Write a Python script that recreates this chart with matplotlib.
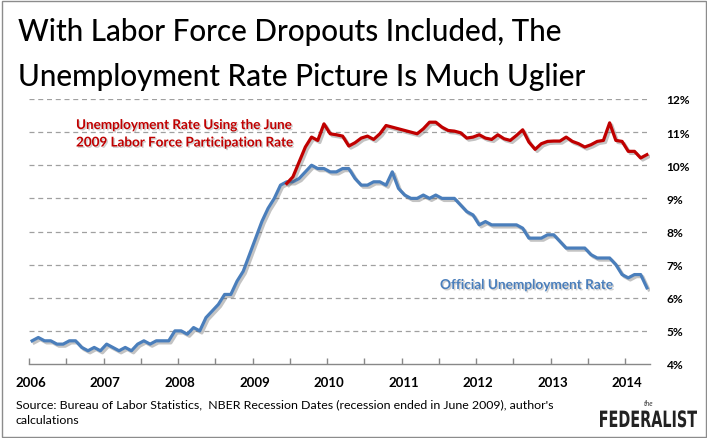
import matplotlib
matplotlib.use('Agg')
import matplotlib.pyplot as plt
import matplotlib.patheffects as pe
from matplotlib.patches import Rectangle, PathPatch
from matplotlib.textpath import TextPath
from matplotlib.font_manager import FontProperties
from matplotlib.transforms import Affine2D
import numpy as np

# ---------------- data (monthly, Jan 2006 - Apr 2014) ----------------
official = [4.7, 4.8, 4.7, 4.7, 4.6, 4.6, 4.7, 4.7, 4.5, 4.4, 4.5, 4.4,
            4.6, 4.5, 4.4, 4.5, 4.4, 4.6, 4.7, 4.6, 4.7, 4.7, 4.7, 5.0,
            5.0, 4.9, 5.1, 5.0, 5.4, 5.6, 5.8, 6.1, 6.1, 6.5, 6.8, 7.3,
            7.8, 8.3, 8.7, 9.0, 9.4, 9.5, 9.5, 9.6, 9.8, 10.0, 9.9, 9.9,
            9.8, 9.8, 9.9, 9.9, 9.6, 9.4, 9.4, 9.5, 9.5, 9.4, 9.8, 9.3,
            9.1, 9.0, 9.0, 9.1, 9.0, 9.1, 9.0, 9.0, 9.0, 8.8, 8.6, 8.5,
            8.2, 8.3, 8.2, 8.2, 8.2, 8.2, 8.2, 8.1, 7.8, 7.8, 7.8, 7.9,
            7.9, 7.7, 7.5, 7.5, 7.5, 7.5, 7.3, 7.2, 7.2, 7.2, 7.0, 6.7,
            6.6, 6.7, 6.7, 6.3]

# June 2009 participation-rate version, starts at month index 41 (Jun 2009)
adj_start = 41
adjusted = [9.45, 9.65, 10.1, 10.55, 10.85, 10.75, 11.25,
            10.95, 10.92, 10.88, 10.58, 10.68, 10.82, 10.88, 10.78, 10.95, 11.2, 11.15, 11.1,
            11.05, 11.0, 10.95, 11.1, 11.3, 11.3, 11.15, 11.05, 11.03, 10.98, 10.82, 10.85,
            10.92, 10.82, 10.78, 10.92, 10.80, 10.75, 10.9, 11.07, 10.70, 10.48, 10.65, 10.72,
            10.73, 10.73, 10.85, 10.72, 10.65, 10.55, 10.62, 10.72, 10.75, 11.28, 10.75, 10.72,
            10.42, 10.42, 10.22, 10.32]

years = ['2006', '2007', '2008', '2009', '2010', '2011', '2012', '2013', '2014']
yticks = [4, 5, 6, 7, 8, 9, 10, 11, 12]

title = ['With Labor Force Dropouts Included, The',
         'Unemployment Rate Picture Is Much Uglier']
red_label = ['Unemployment Rate Using the June',
             '2009 Labor Force Participation Rate']
blue_label = 'Official Unemployment Rate'
source = ["Source: Bureau of Labor Statistics,  NBER Recession Dates (recession ended in June 2009), author's",
          "calculations"]

#-----------------------------------------------------------------------
W, H = 707, 439
font = ['Lato', 'DejaVu Sans']
plt.rcParams['font.family'] = font

fig = plt.figure(figsize=(W/100, H/100), dpi=100)
fig.patch.set_facecolor('white')

def fx(px):
    return px/W

def fy(py):
    return 1 - py/H

ax = fig.add_axes([fx(29), fy(365), fx(650) - fx(29), fy(100) - fy(365)])

red = '#C00000'
blue = '#4A7EBB'
shadow = [pe.SimpleLineShadow(offset=(1.5, -1.5), shadow_color='#555555', alpha=0.35), pe.Normal()]

x_off = np.arange(len(official))
x_adj = np.arange(adj_start, adj_start + len(adjusted))
ax.plot(x_off, official, color=blue, lw=2.3, solid_joinstyle='round', path_effects=shadow, zorder=3)
ax.plot(x_adj, adjusted, color=red, lw=2.3, solid_joinstyle='round', path_effects=shadow, zorder=4)

ax.set_xlim(-0.5, len(official) - 0.5)
ax.set_ylim(4, 12)

# gridlines
for v in yticks[1:]:
    ax.axhline(v, color='#A0A0A0', lw=0.9, ls=(0, (4, 3)), zorder=1)

for s in ['top', 'right', 'left']:
    ax.spines[s].set_visible(False)
ax.spines['bottom'].set_color('#888888')
ax.spines['bottom'].set_linewidth(1)

ax.set_xticks(np.arange(-0.5, len(official), 6))
ax.set_xticklabels([])
ax.tick_params(axis='x', direction='in', length=4, color='#888888', width=1)
ax.set_yticks(yticks)
ax.set_yticklabels([f'{v}%' for v in yticks], fontsize=8.6, fontweight='bold')
ax.yaxis.tick_right()
ax.tick_params(axis='y', length=0, pad=12)

yr_y = (fy(387) - fy(365)) / (fy(100) - fy(365))
for i, yr in enumerate(years):
    ax.text(-0.5 + 12*i + 0.3, yr_y, yr, transform=ax.get_xaxis_transform(),
            ha='center', va='baseline', fontsize=9.5, fontweight='bold')

txt_shadow = [pe.SimplePatchShadow(offset=(1, -1), shadow_rgbFace='#777777', alpha=0.35), pe.Normal()]
for line, by in zip(red_label, [130, 147.5]):
    fig.text(fx(76), fy(by), line, color=red, fontsize=9.7, fontweight='bold',
             va='baseline', ha='left', path_effects=txt_shadow)
fig.text(fx(440), fy(290), blue_label, color=blue, fontsize=9.8, fontweight='bold',
         va='baseline', ha='left', path_effects=txt_shadow)

for line, by in zip(title, [41, 86]):
    fig.text(fx(18), fy(by), line, fontsize=21.3, fontweight='medium', va='baseline', ha='left')

for line, by in zip(source, [408, 424]):
    fig.text(fx(16), fy(by), line, fontsize=8.9, va='baseline', ha='left')

# logo
fig.text(fx(649), fy(406), 'the', fontsize=5, style='italic', ha='center', va='baseline', color='#333333')
tp = TextPath((0, 0), 'FEDERALIST', size=1, prop=FontProperties(family='DejaVu Sans', weight='bold'))
ext = tp.get_extents()
sx = 97 / ext.width
sy = 17 / ext.height
logo_tr = Affine2D().translate(-ext.x0, 0).scale(sx / W, sy / H).translate(fx(600), fy(428)) + fig.transFigure
fig.patches.append(PathPatch(tp, transform=logo_tr, facecolor='#222222', edgecolor='none'))

fig.patches.append(Rectangle((fx(1.5), fy(437.5)), fx(704), fy(2) - fy(437.5), transform=fig.transFigure,
                             fill=False, edgecolor='#8C8C8C', lw=1))

fig.savefig('out.png', dpi=100)
